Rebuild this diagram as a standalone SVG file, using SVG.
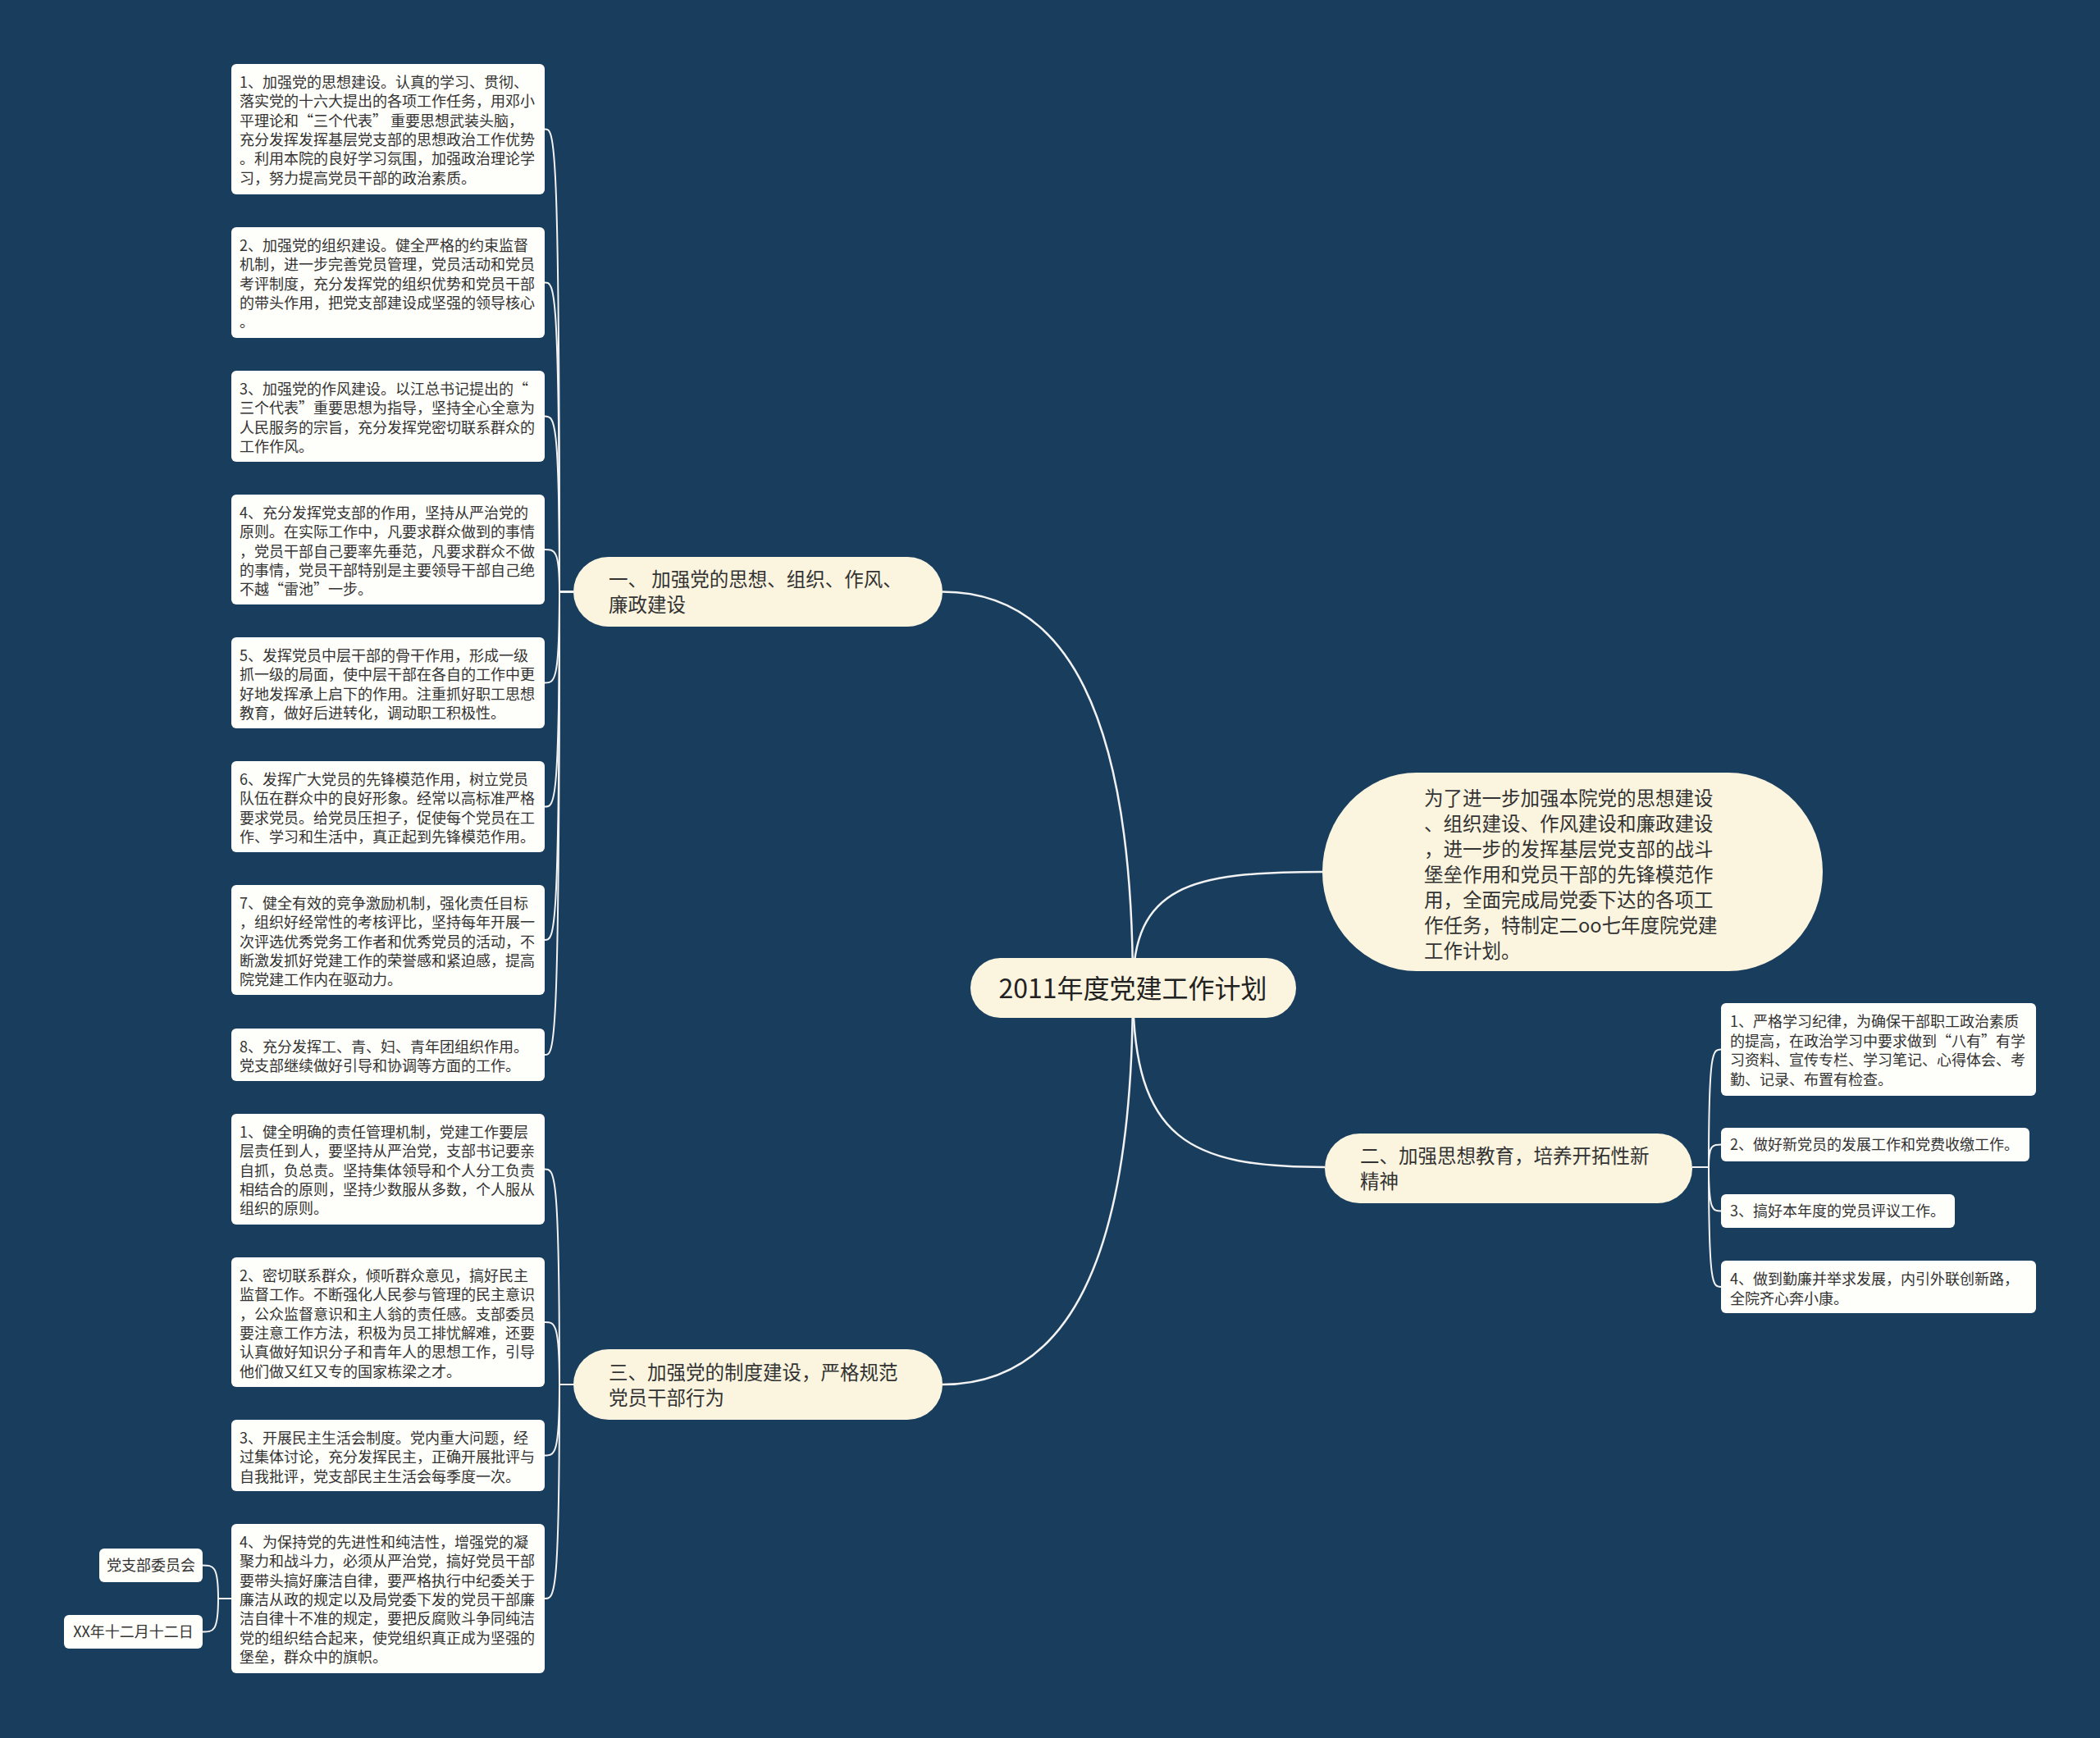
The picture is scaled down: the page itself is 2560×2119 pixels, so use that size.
<svg xmlns="http://www.w3.org/2000/svg" width="2560" height="2119" viewBox="0 0 2560 2119">
<defs>
<style>
.bg{fill:#183d5d}
.leaf{fill:#fefefa}
.node{fill:#fbf5df}
.t{font-family:"Noto Sans CJK SC","Noto Sans",sans-serif;fill:#333333}
.lf{font-size:18px}
.br{font-size:23.5px}
.ct{font-size:32px;fill:#222222}
.ln{fill:none;stroke:#f2f2f2;stroke-width:2}
.lc{fill:none;stroke:#f2f2f2;stroke-width:2.5}
</style>
</defs>
<rect class="bg" x="0" y="0" width="2560" height="2119"/>

<g id="connectors">
<path class="lc" d="M1381,1205 C1381,870 1300,721.5 1149,721.5"/>
<path class="lc" d="M1381,1205 C1381,1540 1300,1688 1149,1688"/>
<path class="lc" d="M1381,1205 C1381,1080 1450,1063 1612,1063"/>
<path class="lc" d="M1381,1205 C1381,1390 1450,1423 1615,1423"/>

<path class="ln" d="M699,721.5 H682 C682,157.5 676,157.5 664,157.5"/>
<path class="ln" d="M699,721.5 H682 C682,344.5 676,344.5 664,344.5"/>
<path class="ln" d="M699,721.5 H682 C682,507.5 676,507.5 664,507.5"/>
<path class="ln" d="M699,721.5 H682 C682,670 676,670 664,670"/>
<path class="ln" d="M699,721.5 H682 C682,832.5 676,832.5 664,832.5"/>
<path class="ln" d="M699,721.5 H682 C682,983.5 676,983.5 664,983.5"/>
<path class="ln" d="M699,721.5 H682 C682,1146 676,1146 664,1146"/>
<path class="ln" d="M699,721.5 H682 C682,1286 676,1286 664,1286"/>

<path class="ln" d="M699,1688 H682 C682,1425.5 676,1425.5 664,1425.5"/>
<path class="ln" d="M699,1688 H682 C682,1612 676,1612 664,1612"/>
<path class="ln" d="M699,1688 H682 C682,1774.5 676,1774.5 664,1774.5"/>
<path class="ln" d="M699,1688 H682 C682,1949 676,1949 664,1949"/>

<path class="ln" d="M2063,1423 H2083 C2083,1279.5 2088,1279.5 2098,1279.5"/>
<path class="ln" d="M2063,1423 H2083 C2083,1395.5 2088,1395.5 2098,1395.5"/>
<path class="ln" d="M2063,1423 H2083 C2083,1476.5 2088,1476.5 2098,1476.5"/>
<path class="ln" d="M2063,1423 H2083 C2083,1569 2088,1569 2098,1569"/>

<path class="ln" d="M282,1949 H266 C266,1908.5 260,1908.5 247,1908.5"/>
<path class="ln" d="M282,1949 H266 C266,1989.5 260,1989.5 247,1989.5"/>
</g>

<g id="center">
<rect class="node" x="1183" y="1168" width="397" height="73" rx="36.5"/>
<text class="t ct" x="1381" y="1217" text-anchor="middle">2011年度党建工作计划</text>
</g>

<g id="intro">
<rect class="node" x="1612" y="942" width="610" height="242" rx="115" ry="121"/>
<text class="t br" x="1736" y="982">
<tspan x="1736" dy="0">为了进一步加强本院党的思想建设</tspan>
<tspan x="1736" dy="31">、组织建设、作风建设和廉政建设</tspan>
<tspan x="1736" dy="31">，进一步的发挥基层党支部的战斗</tspan>
<tspan x="1736" dy="31">堡垒作用和党员干部的先锋模范作</tspan>
<tspan x="1736" dy="31">用，全面完成局党委下达的各项工</tspan>
<tspan x="1736" dy="31">作任务，特制定二oo七年度院党建</tspan>
<tspan x="1736" dy="31">工作计划。</tspan>
</text>
</g>

<g id="branch1">
<rect class="node" x="699" y="679" width="450" height="85" rx="42.5"/>
<text class="t br" x="742" y="715">
<tspan x="742" dy="0">一、 加强党的思想、组织、作风、</tspan>
<tspan x="742" dy="31">廉政建设</tspan>
</text>
</g>

<g id="branch2">
<rect class="node" x="1615" y="1382" width="448" height="85" rx="42.5"/>
<text class="t br" x="1658" y="1418">
<tspan x="1658" dy="0">二、加强思想教育，培养开拓性新</tspan>
<tspan x="1658" dy="31">精神</tspan>
</text>
</g>

<g id="branch3">
<rect class="node" x="699" y="1645" width="450" height="86" rx="43"/>
<text class="t br" x="742" y="1681.5">
<tspan x="742" dy="0">三、加强党的制度建设，严格规范</tspan>
<tspan x="742" dy="31">党员干部行为</tspan>
</text>
</g>

<g id="leaf1-1">
<rect class="leaf" x="282" y="78" width="382" height="159" rx="6"/>
<text class="t lf" x="292" y="107">
<tspan x="292" dy="0">1、加强党的思想建设。认真的学习、贯彻、</tspan>
<tspan x="292" dy="23.3">落实党的十六大提出的各项工作任务，用邓小</tspan>
<tspan x="292" dy="23.3">平理论和“三个代表” 重要思想武装头脑，</tspan>
<tspan x="292" dy="23.3">充分发挥发挥基层党支部的思想政治工作优势</tspan>
<tspan x="292" dy="23.3">。利用本院的良好学习氛围，加强政治理论学</tspan>
<tspan x="292" dy="23.3">习，努力提高党员干部的政治素质。</tspan>
</text>
</g>

<g id="leaf1-2">
<rect class="leaf" x="282" y="277" width="382" height="135" rx="6"/>
<text class="t lf" x="292" y="306">
<tspan x="292" dy="0">2、加强党的组织建设。健全严格的约束监督</tspan>
<tspan x="292" dy="23.3">机制，进一步完善党员管理，党员活动和党员</tspan>
<tspan x="292" dy="23.3">考评制度，充分发挥党的组织优势和党员干部</tspan>
<tspan x="292" dy="23.3">的带头作用，把党支部建设成坚强的领导核心</tspan>
<tspan x="292" dy="23.3">。</tspan>
</text>
</g>

<g id="leaf1-3">
<rect class="leaf" x="282" y="452" width="382" height="111" rx="6"/>
<text class="t lf" x="292" y="481">
<tspan x="292" dy="0">3、加强党的作风建设。以江总书记提出的“</tspan>
<tspan x="292" dy="23.3">三个代表”重要思想为指导，坚持全心全意为</tspan>
<tspan x="292" dy="23.3">人民服务的宗旨，充分发挥党密切联系群众的</tspan>
<tspan x="292" dy="23.3">工作作风。</tspan>
</text>
</g>

<g id="leaf1-4">
<rect class="leaf" x="282" y="603" width="382" height="134" rx="6"/>
<text class="t lf" x="292" y="632">
<tspan x="292" dy="0">4、充分发挥党支部的作用，坚持从严治党的</tspan>
<tspan x="292" dy="23.3">原则。在实际工作中，凡要求群众做到的事情</tspan>
<tspan x="292" dy="23.3">，党员干部自己要率先垂范，凡要求群众不做</tspan>
<tspan x="292" dy="23.3">的事情，党员干部特别是主要领导干部自己绝</tspan>
<tspan x="292" dy="23.3">不越“雷池”一步。</tspan>
</text>
</g>

<g id="leaf1-5">
<rect class="leaf" x="282" y="777" width="382" height="111" rx="6"/>
<text class="t lf" x="292" y="806">
<tspan x="292" dy="0">5、发挥党员中层干部的骨干作用，形成一级</tspan>
<tspan x="292" dy="23.3">抓一级的局面，使中层干部在各自的工作中更</tspan>
<tspan x="292" dy="23.3">好地发挥承上启下的作用。注重抓好职工思想</tspan>
<tspan x="292" dy="23.3">教育，做好后进转化，调动职工积极性。</tspan>
</text>
</g>

<g id="leaf1-6">
<rect class="leaf" x="282" y="928" width="382" height="111" rx="6"/>
<text class="t lf" x="292" y="957">
<tspan x="292" dy="0">6、发挥广大党员的先锋模范作用，树立党员</tspan>
<tspan x="292" dy="23.3">队伍在群众中的良好形象。经常以高标准严格</tspan>
<tspan x="292" dy="23.3">要求党员。给党员压担子，促使每个党员在工</tspan>
<tspan x="292" dy="23.3">作、学习和生活中，真正起到先锋模范作用。</tspan>
</text>
</g>

<g id="leaf1-7">
<rect class="leaf" x="282" y="1079" width="382" height="134" rx="6"/>
<text class="t lf" x="292" y="1108">
<tspan x="292" dy="0">7、健全有效的竞争激励机制，强化责任目标</tspan>
<tspan x="292" dy="23.3">，组织好经常性的考核评比，坚持每年开展一</tspan>
<tspan x="292" dy="23.3">次评选优秀党务工作者和优秀党员的活动，不</tspan>
<tspan x="292" dy="23.3">断激发抓好党建工作的荣誉感和紧迫感，提高</tspan>
<tspan x="292" dy="23.3">院党建工作内在驱动力。</tspan>
</text>
</g>

<g id="leaf1-8">
<rect class="leaf" x="282" y="1254" width="382" height="64" rx="6"/>
<text class="t lf" x="292" y="1283">
<tspan x="292" dy="0">8、充分发挥工、青、妇、青年团组织作用。</tspan>
<tspan x="292" dy="23.3">党支部继续做好引导和协调等方面的工作。</tspan>
</text>
</g>

<g id="leaf3-1">
<rect class="leaf" x="282" y="1358" width="382" height="135" rx="6"/>
<text class="t lf" x="292" y="1387">
<tspan x="292" dy="0">1、健全明确的责任管理机制，党建工作要层</tspan>
<tspan x="292" dy="23.3">层责任到人，要坚持从严治党，支部书记要亲</tspan>
<tspan x="292" dy="23.3">自抓，负总责。坚持集体领导和个人分工负责</tspan>
<tspan x="292" dy="23.3">相结合的原则，坚持少数服从多数，个人服从</tspan>
<tspan x="292" dy="23.3">组织的原则。</tspan>
</text>
</g>

<g id="leaf3-2">
<rect class="leaf" x="282" y="1533" width="382" height="158" rx="6"/>
<text class="t lf" x="292" y="1562">
<tspan x="292" dy="0">2、密切联系群众，倾听群众意见，搞好民主</tspan>
<tspan x="292" dy="23.3">监督工作。不断强化人民参与管理的民主意识</tspan>
<tspan x="292" dy="23.3">，公众监督意识和主人翁的责任感。支部委员</tspan>
<tspan x="292" dy="23.3">要注意工作方法，积极为员工排忧解难，还要</tspan>
<tspan x="292" dy="23.3">认真做好知识分子和青年人的思想工作，引导</tspan>
<tspan x="292" dy="23.3">他们做又红又专的国家栋梁之才。</tspan>
</text>
</g>

<g id="leaf3-3">
<rect class="leaf" x="282" y="1731" width="382" height="87" rx="6"/>
<text class="t lf" x="292" y="1760">
<tspan x="292" dy="0">3、开展民主生活会制度。党内重大问题，经</tspan>
<tspan x="292" dy="23.3">过集体讨论，充分发挥民主，正确开展批评与</tspan>
<tspan x="292" dy="23.3">自我批评，党支部民主生活会每季度一次。</tspan>
</text>
</g>

<g id="leaf3-4">
<rect class="leaf" x="282" y="1858" width="382" height="182" rx="6"/>
<text class="t lf" x="292" y="1887">
<tspan x="292" dy="0">4、为保持党的先进性和纯洁性，增强党的凝</tspan>
<tspan x="292" dy="23.3">聚力和战斗力，必须从严治党，搞好党员干部</tspan>
<tspan x="292" dy="23.3">要带头搞好廉洁自律，要严格执行中纪委关于</tspan>
<tspan x="292" dy="23.3">廉洁从政的规定以及局党委下发的党员干部廉</tspan>
<tspan x="292" dy="23.3">洁自律十不准的规定，要把反腐败斗争同纯洁</tspan>
<tspan x="292" dy="23.3">党的组织结合起来，使党组织真正成为坚强的</tspan>
<tspan x="292" dy="23.3">堡垒，群众中的旗帜。</tspan>
</text>
</g>

<g id="leaf3-4-1">
<rect class="leaf" x="121" y="1888" width="126" height="41" rx="6"/>
<text class="t lf" x="184" y="1915" text-anchor="middle">党支部委员会</text>
</g>

<g id="leaf3-4-2">
<rect class="leaf" x="78" y="1969" width="169" height="41" rx="6"/>
<text class="t lf" x="162.5" y="1996" text-anchor="middle">XX年十二月十二日</text>
</g>

<g id="leaf2-1">
<rect class="leaf" x="2098" y="1223" width="384" height="113" rx="6"/>
<text class="t lf" x="2109" y="1252">
<tspan x="2109" dy="0">1、严格学习纪律，为确保干部职工政治素质</tspan>
<tspan x="2109" dy="23.5">的提高，在政治学习中要求做到“八有”有学</tspan>
<tspan x="2109" dy="23.5">习资料、宣传专栏、学习笔记、心得体会、考</tspan>
<tspan x="2109" dy="23.5">勤、记录、布置有检查。</tspan>
</text>
</g>

<g id="leaf2-2">
<rect class="leaf" x="2098" y="1375" width="376" height="41" rx="6"/>
<text class="t lf" x="2109" y="1402">2、做好新党员的发展工作和党费收缴工作。</text>
</g>

<g id="leaf2-3">
<rect class="leaf" x="2098" y="1456" width="285" height="41" rx="6"/>
<text class="t lf" x="2109" y="1483">3、搞好本年度的党员评议工作。</text>
</g>

<g id="leaf2-4">
<rect class="leaf" x="2098" y="1537" width="384" height="64" rx="6"/>
<text class="t lf" x="2109" y="1566">
<tspan x="2109" dy="0">4、做到勤廉并举求发展，内引外联创新路，</tspan>
<tspan x="2109" dy="23.5">全院齐心奔小康。</tspan>
</text>
</g>
</svg>
